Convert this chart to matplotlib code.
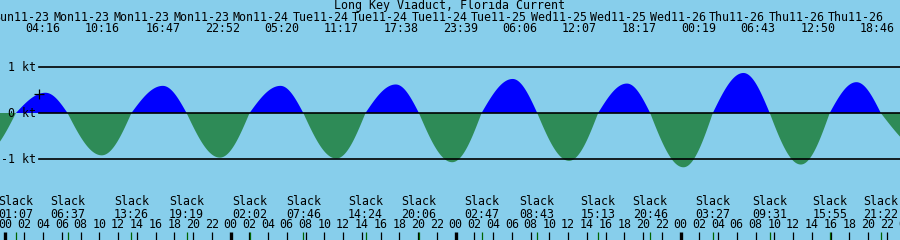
import numpy as np
import matplotlib
matplotlib.use("Agg")
import matplotlib.pyplot as plt

# chart text and data (hours counted from 11-23 00:00)
title = "Long Key Viaduct, Florida Current"

slack_day = [0, 0, 0, 0, 1, 1, 1, 1, 2, 2, 2, 2, 3, 3, 3, 3]
slack_time = ["01:07", "06:37", "13:26", "19:19", "02:02", "07:46", "14:24", "20:06",
              "02:47", "08:43", "15:13", "20:46", "03:27", "09:31", "15:55", "21:22"]

peak_day = [0, 0, 0, 0, 1, 1, 1, 1, 2, 2, 2, 3, 3, 3, 3]
peak_time = ["04:16", "10:16", "16:47", "22:52", "05:20", "11:17", "17:38", "23:39",
             "06:06", "12:07", "18:17", "00:19", "06:43", "12:50", "18:46"]
peak_date = ["Sun11-23", "Mon11-23", "Mon11-23", "Mon11-23", "Mon11-24", "Tue11-24",
             "Tue11-24", "Tue11-24", "Tue11-25", "Wed11-25", "Wed11-25", "Wed11-26",
             "Thu11-26", "Thu11-26", "Thu11-26"]
peak_kt = [0.44, -0.92, 0.59, -0.97, 0.59, -0.99, 0.62, -1.07,
           0.74, -1.04, 0.64, -1.18, 0.87, -1.12, 0.67]

# extrema just outside the visible window
edge_t = [-2.5, 99.0]
edge_kt = [-0.92, -0.95]

now_t = 3.6  # "+" marker

kt_levels = [1, 0, -1]
kt_labels = ["1 kt", "0 kt", "-1 kt"]


def to_hours(days, times):
    out = []
    for d, s in zip(days, times):
        h, m = s.split(":")
        out.append(24 * d + int(h) + int(m) / 60)
    return np.array(out)


slack_h = to_hours(slack_day, slack_time)
peak_h = to_hours(peak_day, peak_time)

ev_t = np.concatenate([slack_h, peak_h, edge_t])
ev_v = np.concatenate([np.zeros(len(slack_h)), peak_kt, edge_kt])
order = np.argsort(ev_t)
ev_t, ev_v = ev_t[order], ev_v[order]


def current(t):
    # quarter-sine between each slack and the neighbouring extremum
    v = np.zeros_like(t)
    for i in range(len(ev_t) - 1):
        t0, t1 = ev_t[i], ev_t[i + 1]
        m = (t >= t0) & (t <= t1)
        u = (t[m] - t0) / (t1 - t0)
        if ev_v[i] == 0:
            v[m] = ev_v[i + 1] * np.sin(np.pi / 2 * u)
        else:
            v[m] = ev_v[i] * np.cos(np.pi / 2 * u)
    return v


W, H = 900, 240
x0_px, px_per_h = 5.5, 9.375
zero_px, px_per_kt = 113, 46

fig = plt.figure(figsize=(9, 2.4), dpi=100)
fig.patch.set_facecolor("#87CEEB")
ax = fig.add_axes([0, 0, 1, 1])
ax.set_facecolor("#87CEEB")
ax.axis("off")
ax.set_xlim(-x0_px / px_per_h, (W - x0_px) / px_per_h)
ax.set_ylim(-(H - zero_px) / px_per_kt, zero_px / px_per_kt)
xt = ax.get_xaxis_transform()


def fy(py):
    return 1 - py / H


font = dict(family="DejaVu Sans Mono", fontsize=8.4, color="black")

t = np.linspace(-1, 97, 4000)
v = current(t)
ax.fill_between(t, 0, v, where=v >= 0, interpolate=True, color="#0000FF", lw=0)
ax.fill_between(t, 0, v, where=v <= 0, interpolate=True, color="#2E8B57", lw=0)

for lvl, lab in zip(kt_levels, kt_labels):
    ax.axhline(lvl, xmin=39 / W, xmax=1, color="black", lw=1.2)
    ax.text(36 / W, lvl, lab, transform=ax.get_yaxis_transform(), ha="right",
            va="center", **font)

ax.plot([now_t], [current(np.array([now_t]))[0]], marker="+", color="black",
        ms=7, mew=0.9, ls="none")

# title and top labels, pushed right so they do not overlap
ax.text(0.5, fy(6), title, transform=ax.transAxes, ha="center", va="center", **font)
gap = 6.35
pos = []
for i, h in enumerate(peak_h):
    p = h - 0.32 if i == 0 else max(h, pos[-1] + gap)
    pos.append(p)
for p, d, s in zip(pos, peak_date, peak_time):
    ax.text(p - 21 / px_per_h, fy(17.5), d, transform=xt, ha="center", va="center", **font)
    ax.text(p, fy(29), s, transform=xt, ha="center", va="center", **font)

# slack labels at the bottom
for h, s in zip(slack_h, slack_time):
    ax.text(h, fy(201.5), "Slack", transform=xt, ha="center", va="center", **font)
    ax.text(h, fy(214), s, transform=xt, ha="center", va="center", **font)

# hour axis
hours = np.arange(0, 98, 2)
for h in hours:
    ax.text(h, fy(225), "%02d" % (h % 24), transform=xt, ha="center", va="center", **font)
    ax.plot([h, h], [fy(232), 0], transform=xt, color="black",
            lw=2.4 if h % 24 == 0 else 0.9, solid_capstyle="butt")
for h in slack_h:
    ax.plot([h, h], [fy(232), 0], transform=xt, color="#006400", lw=0.9,
            solid_capstyle="butt")

fig.savefig("out.png", dpi=100, facecolor=fig.get_facecolor())
